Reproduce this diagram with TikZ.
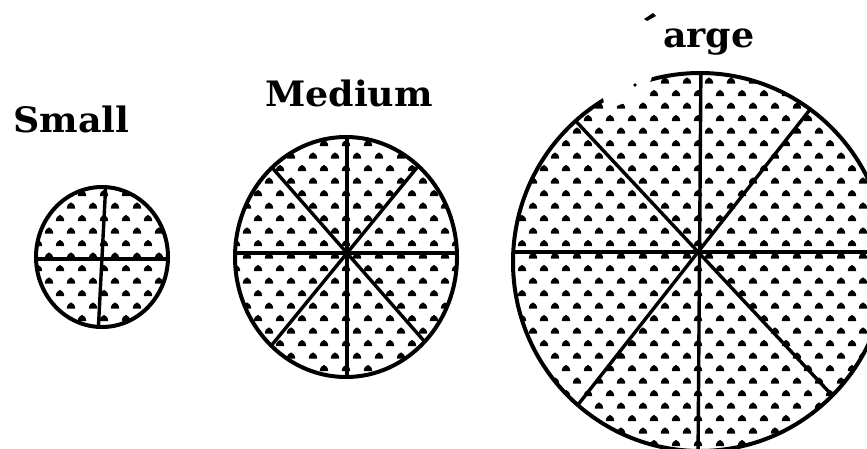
\documentclass[tikz,border=0pt]{standalone}
\usepackage{fontspec}
\setmainfont{DejaVu Serif}
\tikzset{
  outline/.style={line width=4pt},
  spoke/.style={line width=3.4pt},
  sizelabel/.style={font=\fontsize{35}{35}\selectfont\bfseries, inner sep=0pt, anchor=base west, xscale=1.04},
}
\newcommand\dotfield[4]{%
  \foreach \j in {#3,...,#4}{%
    \foreach \i in {#1,...,#2}{%
      \pgfmathsetmacro\xx{5+22*\i+11*mod(\j,2)}%
      \pgfmathsetmacro\yy{6+12.5*\j}%
      \fill[shift={(\xx,\yy)}] (-4.2,2.6) .. controls (-4.2,-0.8) and (-1.8,-3.4) .. (0,-3.6) .. controls (1.8,-3.4) and (4.2,-0.8) .. (4.2,2.6) -- cycle;
    }}}
\begin{document}
\begin{tikzpicture}[x=1pt,y=-1pt]
\useasboundingbox (0,0) rectangle (867,448);
\clip (0,0) rectangle (867,448);
\fill[white] (0,0) rectangle (867,448);

% labels
\node[sizelabel] (small) at (13,132) {Small};
\node[sizelabel] (medium) at (265,106) {Medium};
\node[sizelabel] (large) at (663,47) {arge};
\fill (644,19) -- (653,13) -- (656,16) -- (647,21) -- cycle;

% small circle
\coordinate (hubS) at (102,259);
\begin{scope}
  \clip (102,257) ellipse [x radius=66pt, y radius=70pt];
  \dotfield{1}{7}{14}{26}
  \draw[spoke] (25,259) -- (180,259);
  \draw[spoke] (106,180) -- (98,335);
\end{scope}
\draw[outline] (102,257) ellipse [x radius=66pt, y radius=70pt];

% medium circle
\coordinate (hubM) at (347,253);
\begin{scope}
  \clip (346,257) ellipse [x radius=111pt, y radius=120pt];
  \dotfield{9}{20}{10}{31}
  \draw[spoke] (347,125) -- (347,390);
  \draw[spoke] (225,253) -- (470,253);
  \draw[spoke] (240,131) -- (460,382);
  \draw[spoke] (460,115) -- (235,390);
\end{scope}
\draw[outline] (346,257) ellipse [x radius=111pt, y radius=120pt];

% large circle
\coordinate (hubL) at (698,252);
\begin{scope}
  \clip (700,262) ellipse [x radius=187pt, y radius=189pt];
  \dotfield{22}{39}{5}{36}
  \draw[spoke] (701,60) -- (698,460);
  \draw[spoke] (500,252) -- (900,252);
  \draw[spoke] (500,40) -- (900,468);
  \draw[spoke] (900,-5) -- (500,504);
\end{scope}
\draw[outline] (700,262) ellipse [x radius=187pt, y radius=189pt];
% erased patch near the label
\fill[white] (604,104) -- (598,62) -- (656,62) -- (651,80) -- (642,96) -- (614,107) -- cycle;
\fill (635,85) circle (1.8pt);
\end{tikzpicture}
\end{document}
